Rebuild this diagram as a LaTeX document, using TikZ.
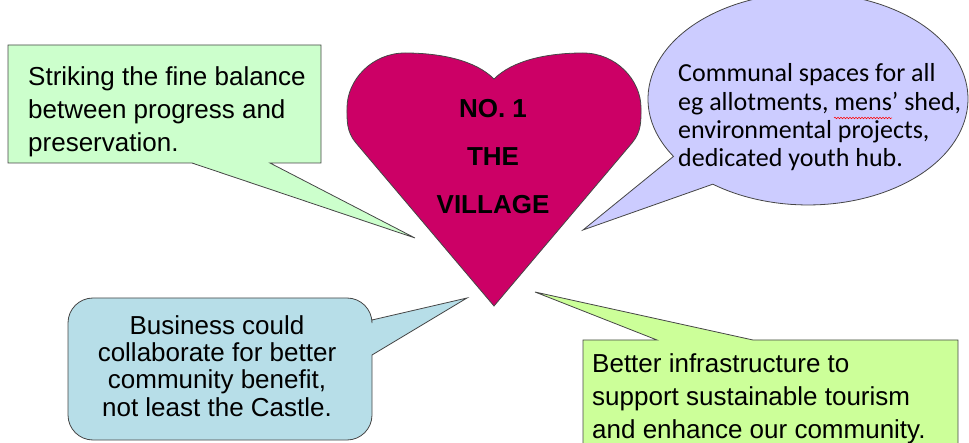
\documentclass[tikz,border=0pt]{standalone}
\usepackage{fontspec}
\setmainfont{Liberation Sans}
\newfontfamily\calibrifont{Carlito}
\usetikzlibrary{decorations.pathmorphing}
\definecolor{heartred}{RGB}{204, 0, 102}
\definecolor{mintgreen}{RGB}{204, 255, 204}
\definecolor{bubblepurple}{RGB}{204, 204, 255}
\definecolor{paleblue}{RGB}{183, 222, 232}
\definecolor{limegreen}{RGB}{204, 255, 153}
\definecolor{outline}{RGB}{70, 70, 70}

\begin{document}
\begin{tikzpicture}[x=1bp, y=-1bp,
    callout/.style={fill=#1, draw=outline, line width=0.8bp, line join=miter},
    note/.style={inner sep=0pt, align=left, font=\fontsize{26bp}{33bp}\selectfont}]

    \useasboundingbox (0, 0) rectangle (969, 443);
    \clip (0, 0) rectangle (969, 443);

    \coordinate (tlTip) at (415, 238);
    \coordinate (trTip) at (583, 230);
    \coordinate (blTip) at (467, 298);
    \coordinate (brTip) at (535, 292);

    \filldraw[fill=heartred, draw=outline, line width=0.8bp]
        (494, 306) --
        (356, 143) .. controls (346.3, 131.6) and (347, 120) .. (347, 108) ..
        controls (347, 80) and (372, 53) .. (405, 53) ..
        controls (440, 53) and (475, 60) .. (494, 79) ..
        controls (513, 60) and (548, 53) .. (583, 53) ..
        controls (616, 53) and (641, 80) .. (641, 108) ..
        controls (641, 120) and (641.7, 131.6) .. (632, 143) --
        cycle;

    \node[inner sep=0pt, align=center,
        font=\bfseries\fontsize{26bp}{48bp}\selectfont] (village)
        at (493, 157) {NO. 1\\THE\\VILLAGE};

    \filldraw[callout=mintgreen]
        (8, 45) -- (321, 45) -- (321, 163) -- (270, 163) --
        (tlTip) --
        (192, 163) -- (8, 163) -- cycle;
    \node[note, anchor=west] (balance) at (28, 112)
        {Striking the fine balance\\between progress and\\preservation.};

    \filldraw[callout=bubblepurple]
        (trTip) -- (673.5, 156.4)
        arc[start angle=-147.2, end angle=-486.5, x radius=160bp, y radius=106bp] --
        cycle;
    \node[note, anchor=west, font=\calibrifont\fontsize{26bp}{28.3bp}\selectfont]
        (spaces) at (678, 117.5)
        {Communal spaces for all\\eg allotments, mens’ shed,\\environmental projects,\\dedicated youth hub.};
    \draw[red, line width=0.5bp, decorate,
        decoration={snake, amplitude=0.8bp, segment length=3bp}]
        (834, 118) -- (892, 118);

    \filldraw[callout=paleblue]
        (blTip) -- (372, 320) {[rounded corners=25bp] --
        (372, 298) --
        (68, 298) --
        (68, 440) --
        (372, 440)} --
        (372, 355) --
        cycle;
    \node[note, align=center, font=\fontsize{26bp}{27.3bp}\selectfont]
        (business) at (217, 366)
        {Business could\\collaborate for better\\community benefit,\\not least the Castle.};

    \filldraw[callout=limegreen]
        (583, 340) -- (657, 340) --
        (brTip) --
        (753, 340) -- (958, 340) -- (958, 460) -- (583, 460) -- cycle;
    \node[note, anchor=west] (tourism) at (592, 399)
        {Better infrastructure to\\support sustainable tourism\\and enhance our community.};

\end{tikzpicture}
\end{document}
